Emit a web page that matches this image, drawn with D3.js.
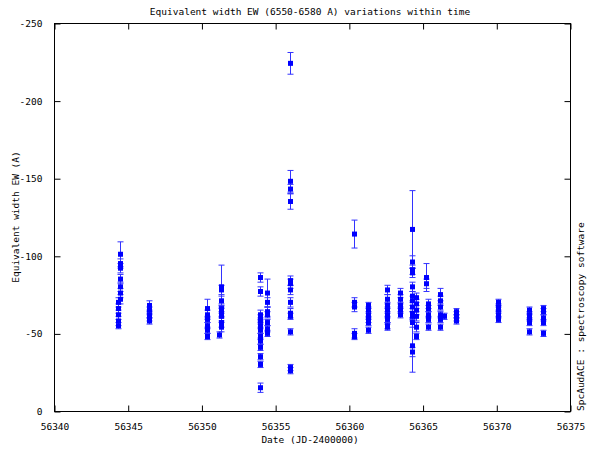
<!DOCTYPE html>
<html><head><meta charset="utf-8">
<script src="https://cdn.jsdelivr.net/npm/d3@7"></script>
<style>
html,body{margin:0;padding:0;background:#fff;}
text{font-family:"DejaVu Sans Mono","Liberation Mono",monospace;font-size:9.5px;fill:#000;}
</style>
</head><body>
<svg id="c" width="600" height="450"></svg>
<script>
const title = "Equivalent width EW (6550-6580 A) variations within time";
const xLabel = "Date (JD-2400000)";
const yLabel = "Equivalent width EW (A)";
const sideLabel = "SpcAudACE : spectroscopy software";
const xTicks = [56340,56345,56350,56355,56360,56365,56370,56375];
const yTicks = [0,-50,-100,-150,-200,-250];

const dates = [
 56344.48,56344.48,56344.48,56344.48,56344.48,56344.48,56344.48,
 56344.34,56344.34,56344.34,56344.34,56344.34,
 56346.44,56346.44,56346.44,56346.44,56346.44,
 56350.36,56350.36,56350.36,56350.36,56350.36,56350.36,
 56351.33,56351.33,56351.33,56351.33,56351.33,56351.33,56351.33,56351.33,56351.2,
 56353.95,56353.95,56353.95,56353.95,56353.95,56353.95,56353.95,56353.95,56353.95,56353.95,56353.95,56353.95,56353.95,
 56354.45,56354.45,56354.45,56354.45,56354.45,56354.45,56354.45,
 56355.99,56355.99,56355.99,56355.99,56355.99,56355.99,56355.99,56355.99,56355.99,56355.99,56355.99,56355.99,56355.99,
 56360.35,56360.35,56360.35,56360.35,56360.35,
 56361.3,56361.3,56361.3,56361.3,56361.3,56361.3,
 56362.6,56362.6,56362.6,56362.6,56362.6,56362.6,56362.6,56362.6,
 56363.5,56363.5,56363.5,56363.5,56363.5,
 56364.3,56364.3,56364.3,56364.3,56364.3,56364.3,56364.3,56364.3,56364.3,56364.3,56364.3,56364.3,56364.3,
 56364.55,56364.55,56364.55,56364.55,56364.55,56364.55,
 56365.23,56365.23,56365.35,56365.35,56365.35,56365.35,56365.35,
 56366.2,56366.2,56366.2,56366.2,56366.2,56366.2,56366.45,
 56367.3,56367.3,56367.3,56367.3,
 56370.1,56370.1,56370.1,56370.1,56370.1,
 56372.2,56372.2,56372.2,56372.2,56372.2,
 56373.15,56373.15,56373.15,56373.15,56373.15
];
const ew = [
 -101,-95,-92,-85,-80,-76,-72,
 -70,-66,-62,-58,-55,
 -68,-65,-62,-60,-58,
 -66,-62,-59,-55,-52,-48,
 -80,-78,-71,-66,-64,-61,-57,-54,-49,
 -86,-77,-62,-60,-58,-55,-52,-48,-45,-41,-35,-30,-15,
 -76,-70,-64,-62,-57,-53,-50,
 -224,-148,-143,-135,-84,-82,-78,-70,-63,-61,-51,-28,-26,
 -114,-70,-67,-50,-48,
 -68,-65,-62,-59,-57,-52,
 -78,-72,-68,-65,-62,-59,-55,-54,
 -76,-72,-68,-65,-62,
 -117,-96,-91,-89,-80,-74,-71,-67,-63,-61,-57,-42,-38,
 -73,-69,-65,-61,-54,-48,
 -86,-82,-69,-66,-62,-59,-54,
 -75,-71,-67,-62,-59,-54,-61,
 -64,-62,-60,-58,
 -70,-67,-65,-62,-59,
 -65,-62,-60,-57,-51,
 -66,-64,-60,-57,-50
];
const errs = [
 8,3,3,3,3,3,3,
 3,3,3,3,2,
 3,2,2,2,2,
 6,3,2,2,2,2,
 14,3,3,3,3,3,3,3,2,
 3,3,3,2,2,2,2,2,2,2,2,2,3,
 9,3,3,2,2,2,2,
 7,7,3,5,3,3,3,3,3,2,2,2,2,
 9,3,3,3,2,
 2,2,2,2,2,2,
 3,3,2,2,2,2,2,2,
 3,3,2,2,2,
 25,4,3,3,3,3,3,3,3,3,3,17,3,
 3,3,3,3,3,2,
 9,3,3,2,2,2,2,
 4,3,2,2,2,2,2,
 2,2,2,2,
 2,2,2,2,2,
 2,2,2,2,2,
 2,2,2,2,2
];

const L=54,R=570,T=23,B=411;
const svg=d3.select("#c");
const x=d3.scaleLinear().domain([56340,56375]).range([L,R]);
const y=d3.scaleLinear().domain([0,-250]).range([B,T]);

const data=dates.map((d,i)=>({d,v:ew[i],e:errs[i]}));

// frame
svg.append("rect").attr("x",L+0.5).attr("y",T+0.5).attr("width",R-L).attr("height",B-T)
  .attr("fill","none").attr("stroke","#000").attr("stroke-width",1);

const tk=6;
// x axis bottom & top
const xb=svg.append("g").attr("transform",`translate(0.5,${B+0.5})`)
  .call(d3.axisBottom(x).tickValues(xTicks).tickSizeInner(-tk).tickSizeOuter(0).tickPadding(12).tickFormat(d=>String(d)));
const xt=svg.append("g").attr("transform",`translate(0.5,${T+0.5})`)
  .call(d3.axisTop(x).tickValues(xTicks).tickSizeInner(-tk).tickSizeOuter(0).tickFormat(""));
const yl=svg.append("g").attr("transform",`translate(${L+0.5},0.5)`)
  .call(d3.axisLeft(y).tickValues(yTicks).tickSizeInner(-tk).tickSizeOuter(0).tickPadding(12).tickFormat(d=>String(d)));
const yr=svg.append("g").attr("transform",`translate(${R+0.5},0.5)`)
  .call(d3.axisRight(y).tickValues(yTicks).tickSizeInner(-tk).tickSizeOuter(0).tickFormat(""));
[xb,xt,yl,yr].forEach(g=>{g.select(".domain").remove();g.selectAll("line").attr("stroke","#000");
  g.selectAll("text").attr("font-family",null).attr("font-size",null).attr("fill","#000");});

// error bars
const gE=svg.append("g").attr("stroke","#3333ff").attr("stroke-width",1);
data.forEach(p=>{
  const cx=Math.round(x(p.d))+0.5;
  const y1=y(p.v-p.e), y2=y(p.v+p.e);
  gE.append("line").attr("x1",cx).attr("x2",cx).attr("y1",y1).attr("y2",y2);
  gE.append("line").attr("x1",cx-3).attr("x2",cx+3).attr("y1",y1).attr("y2",y1);
  gE.append("line").attr("x1",cx-3).attr("x2",cx+3).attr("y1",y2).attr("y2",y2);
});
// points
svg.append("g").selectAll("rect").data(data).enter().append("rect")
  .attr("x",p=>Math.round(x(p.d))-2).attr("y",p=>y(p.v)-2.5).attr("width",5).attr("height",5)
  .attr("fill","#0000ff");

// labels
svg.append("text").attr("x",310).attr("y",15).attr("text-anchor","middle").text(title);
svg.append("text").attr("x",310).attr("y",443).attr("text-anchor","middle").text(xLabel);
svg.append("text").attr("transform","translate(19,217) rotate(-90)").attr("text-anchor","middle").text(yLabel);
svg.append("text").attr("transform","translate(584,411) rotate(-90)").attr("text-anchor","start").text(sideLabel);
</script>
</body></html>
